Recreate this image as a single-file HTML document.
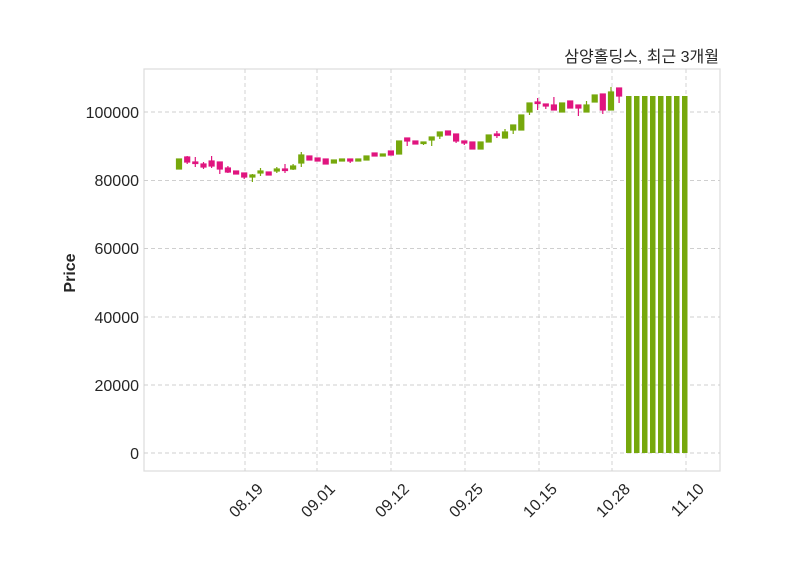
<!DOCTYPE html>
<html><head><meta charset="utf-8"><style>
body{margin:0;background:#fff}
svg{display:block}
text{font-family:"Liberation Sans","Noto Sans CJK KR",sans-serif;fill:#262626}
</style></head><body>
<svg width="800" height="575" viewBox="0 0 800 575" xmlns="http://www.w3.org/2000/svg">
<rect x="144" y="69" width="576" height="402" fill="#fff" stroke="#dcdcdc" stroke-width="1.2"/>
<g stroke="#cfcfcf" stroke-width="0.9" stroke-dasharray="4,3">
<line x1="144" y1="453" x2="720" y2="453"/><line x1="144" y1="385" x2="720" y2="385"/>
<line x1="144" y1="317" x2="720" y2="317"/><line x1="144" y1="248.5" x2="720" y2="248.5"/>
<line x1="144" y1="180.5" x2="720" y2="180.5"/><line x1="144" y1="112" x2="720" y2="112"/>
<line x1="245" y1="69" x2="245" y2="471"/><line x1="317" y1="69" x2="317" y2="471"/>
<line x1="391" y1="69" x2="391" y2="471"/><line x1="465" y1="69" x2="465" y2="471"/>
<line x1="539" y1="69" x2="539" y2="471"/><line x1="612" y1="69" x2="612" y2="471"/>
<line x1="686" y1="69" x2="686" y2="471"/>
</g>
<g font-size="16" text-anchor="end">
<text x="139" y="459">0</text><text x="139" y="391">20000</text><text x="139" y="323">40000</text>
<text x="139" y="254">60000</text><text x="139" y="186">80000</text><text x="139" y="118">100000</text>
</g>
<g font-size="16" text-anchor="end">
<text transform="translate(264,490) rotate(-45)">08.19</text>
<text transform="translate(336,490) rotate(-45)">09.01</text>
<text transform="translate(410,490) rotate(-45)">09.12</text>
<text transform="translate(484,490) rotate(-45)">09.25</text>
<text transform="translate(558,490) rotate(-45)">10.15</text>
<text transform="translate(631,490) rotate(-45)">10.28</text>
<text transform="translate(705,490) rotate(-45)">11.10</text>
</g>
<text transform="translate(75,273) rotate(-90)" font-size="16" font-weight="bold" text-anchor="middle">Price</text>
<text x="719" y="62" font-size="16" text-anchor="end">삼양홀딩스, 최근 3개월</text>
<g stroke-width="1.2">
<g stroke="#e0157f" fill="#e0157f">
<line x1="187.2" y1="156" x2="187.2" y2="164"/><rect x="184.7" y="157" width="5" height="5"/>
<line x1="195.3" y1="157" x2="195.3" y2="167"/><rect x="192.8" y="162" width="5" height="1.5"/>
<line x1="203.5" y1="162" x2="203.5" y2="169"/><rect x="201" y="164" width="5" height="3"/>
<line x1="211.6" y1="156" x2="211.6" y2="168"/><rect x="209.1" y="161" width="5" height="5"/>
<line x1="219.8" y1="162" x2="219.8" y2="174"/><rect x="217.3" y="162" width="5" height="7"/>
<line x1="227.9" y1="166" x2="227.9" y2="173"/><rect x="225.4" y="168" width="5" height="4"/>
<rect x="233.6" y="171" width="5" height="3"/>
<line x1="244.2" y1="173" x2="244.2" y2="179"/><rect x="241.7" y="173" width="5" height="4"/>
<rect x="266.2" y="172" width="5" height="3"/>
<line x1="285" y1="164" x2="285" y2="173"/><rect x="282.5" y="169" width="5" height="1.5"/>
<rect x="306.9" y="156" width="5" height="4"/>
<rect x="315.1" y="158" width="5" height="3"/>
<rect x="323.2" y="159" width="5" height="5"/>
<line x1="350.2" y1="159" x2="350.2" y2="163"/><rect x="347.7" y="159" width="5" height="2"/>
<rect x="372.1" y="153" width="5" height="3"/>
<rect x="388.4" y="151" width="5" height="4"/>
<line x1="407.2" y1="138" x2="407.2" y2="146"/><rect x="404.7" y="138" width="5" height="3"/>
<rect x="412.9" y="141" width="5" height="3"/>
<rect x="445.5" y="131" width="5" height="4"/>
<line x1="456.1" y1="134" x2="456.1" y2="143"/><rect x="453.6" y="134" width="5" height="7"/>
<line x1="464.3" y1="141" x2="464.3" y2="145"/><rect x="461.8" y="141" width="5" height="2"/>
<rect x="469.9" y="142" width="5" height="7"/>
<line x1="496.9" y1="131" x2="496.9" y2="138"/><rect x="494.4" y="134" width="5" height="1.5"/>
<line x1="537.6" y1="98" x2="537.6" y2="110"/><rect x="535.1" y="102" width="5" height="1.5"/>
<line x1="545.8" y1="104" x2="545.8" y2="109"/><rect x="543.3" y="104" width="5" height="2"/>
<line x1="553.9" y1="97" x2="553.9" y2="110"/><rect x="551.4" y="105" width="5" height="5"/>
<rect x="567.7" y="101" width="5" height="7"/>
<line x1="578.4" y1="105" x2="578.4" y2="116"/><rect x="575.9" y="105" width="5" height="3"/>
<line x1="602.8" y1="94" x2="602.8" y2="114"/><rect x="600.3" y="94" width="5" height="16"/>
<line x1="619.1" y1="88" x2="619.1" y2="103"/><rect x="616.6" y="88" width="5" height="8"/>
</g>
<g stroke="#76a80c" fill="#76a80c">
<rect x="176.5" y="159" width="5" height="10"/>
<line x1="252.4" y1="174" x2="252.4" y2="182"/><rect x="249.9" y="175" width="5" height="2"/>
<line x1="260.5" y1="168" x2="260.5" y2="176"/><rect x="258" y="171" width="5" height="2"/>
<line x1="276.8" y1="167" x2="276.8" y2="173"/><rect x="274.3" y="169" width="5" height="2"/>
<line x1="293.1" y1="164" x2="293.1" y2="170"/><rect x="290.6" y="166" width="5" height="3"/>
<line x1="301.3" y1="152" x2="301.3" y2="167"/><rect x="298.8" y="155" width="5" height="8"/>
<rect x="331.4" y="160" width="5" height="3"/>
<rect x="339.5" y="159" width="5" height="2"/>
<rect x="355.8" y="159" width="5" height="2"/>
<rect x="364" y="156" width="5" height="4"/>
<rect x="380.3" y="154" width="5" height="2"/>
<rect x="396.6" y="141" width="5" height="13"/>
<line x1="423.5" y1="142" x2="423.5" y2="145"/><rect x="421" y="142" width="5" height="1.5"/>
<line x1="431.7" y1="137" x2="431.7" y2="146"/><rect x="429.2" y="137" width="5" height="3"/>
<line x1="439.8" y1="132" x2="439.8" y2="139"/><rect x="437.3" y="132" width="5" height="4"/>
<rect x="478.1" y="142" width="5" height="7"/>
<rect x="486.2" y="135" width="5" height="7"/>
<line x1="505" y1="129" x2="505" y2="138"/><rect x="502.5" y="132" width="5" height="6"/>
<line x1="513.2" y1="125" x2="513.2" y2="134"/><rect x="510.7" y="125" width="5" height="5"/>
<rect x="518.8" y="115" width="5" height="15"/>
<line x1="529.5" y1="103" x2="529.5" y2="115"/><rect x="527" y="103" width="5" height="9"/>
<rect x="559.6" y="103" width="5" height="9"/>
<line x1="586.5" y1="101" x2="586.5" y2="112"/><rect x="584" y="105" width="5" height="7"/>
<rect x="592.2" y="95" width="5" height="7"/>
<line x1="611" y1="87" x2="611" y2="110"/><rect x="608.5" y="92" width="5" height="18"/>
</g>
<g fill="#76a80c" stroke="none">
<rect x="626" y="96" width="5.5" height="357"/><rect x="634" y="96" width="5.5" height="357"/>
<rect x="642" y="96" width="5.5" height="357"/><rect x="650" y="96" width="5.5" height="357"/>
<rect x="658" y="96" width="5.5" height="357"/><rect x="666" y="96" width="5.5" height="357"/>
<rect x="674" y="96" width="5.5" height="357"/><rect x="682" y="96" width="5.5" height="357"/>
</g>
</g>
</svg>
</body></html>
